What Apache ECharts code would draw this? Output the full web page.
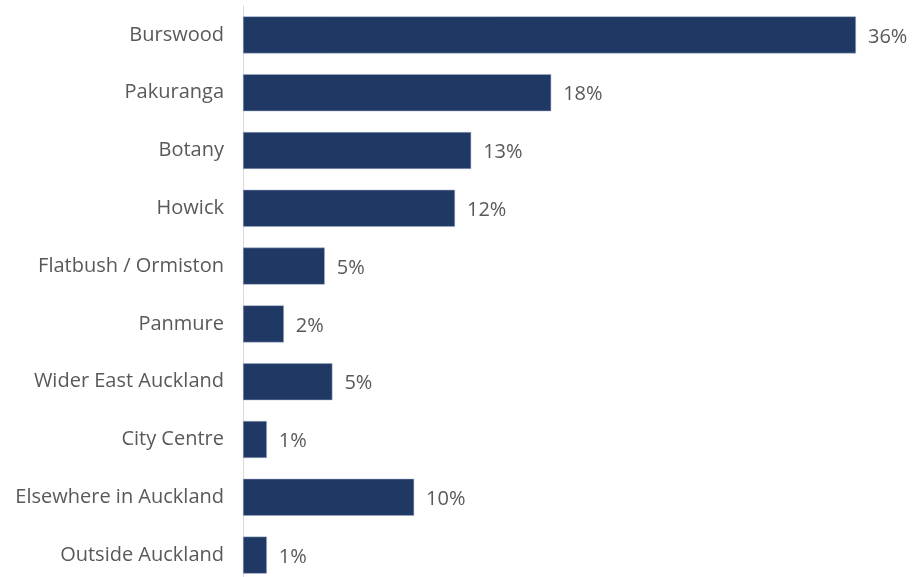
<!DOCTYPE html>
<html>
<head>
<meta charset="utf-8">
<script src="https://cdn.jsdelivr.net/npm/echarts@6/dist/echarts.min.js"></script>
<style>
  html, body { margin: 0; padding: 0; background: #fff; }
  #main { width: 912px; height: 577px; }
</style>
</head>
<body>
<div id="main"></div>
<script>
var categories = ['Burswood', 'Pakuranga', 'Botany', 'Howick', 'Flatbush / Ormiston',
    'Panmure', 'Wider East Auckland', 'City Centre', 'Elsewhere in Auckland', 'Outside Auckland'];
var shares = [36, 18.1, 13.4, 12.45, 4.8, 2.4, 5.25, 1.4, 10.05, 1.4];

var myChart = echarts.init(document.getElementById('main'));
var option = {
    animation: false,
    grid: {left: 243, right: 22, top: 6, height: 578, outerBoundsMode: 'none', containLabel: false},
    xAxis: {
        type: 'value', min: 0, max: 38,
        show: false
    },
    yAxis: {
        type: 'category',
        inverse: true,
        data: categories,
        axisLine: {show: true, lineStyle: {color: '#d9d9d9', width: 1}},
        axisTick: {show: false},
        axisLabel: {
            color: '#595959',
            fontFamily: 'Open Sans',
            fontSize: 20,
            margin: 19
        }
    },
    series: [{
        type: 'bar',
        data: shares,
        barWidth: 37,
        itemStyle: {color: '#203864', borderColor: '#9fb0c8', borderWidth: 0.5},
        label: {
            show: true,
            position: 'right',
            distance: 12,
            offset: [0, 2],
            color: '#595959',
            fontFamily: 'Open Sans',
            fontSize: 20,
            formatter: function (p) { return Math.round(p.value) + '%'; }
        }
    }]
};
myChart.setOption(option);
</script>
</body>
</html>
